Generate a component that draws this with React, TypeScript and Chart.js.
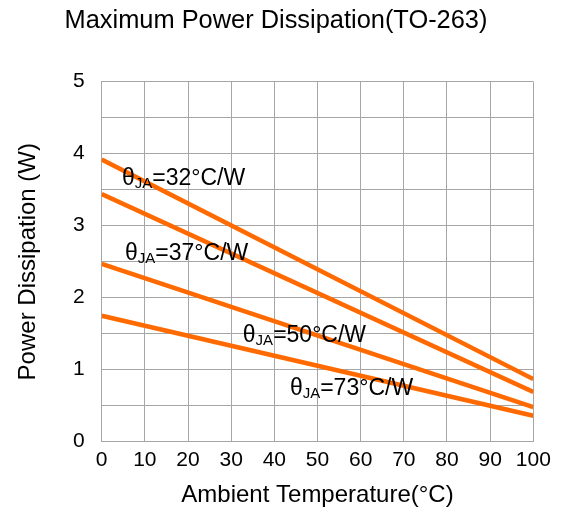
import React, { useEffect, useRef } from 'react';
import { Chart, registerables } from 'chart.js';

Chart.register(...registerables);

// ---- data ----
const temperatures = [0, 100];
const theta32 = [3.92, 0.87];
const theta37 = [3.44, 0.69];
const theta50 = [2.47, 0.48];
const theta73 = [1.75, 0.36];
const thetaValues = ['32', '37', '50', '73'];
const labelX = [4.7, 5.4, 32.7, 43.6];
const labelY = [3.57, 2.52, 1.385, 0.65];
const xTickValues = [0, 10, 20, 30, 40, 50, 60, 70, 80, 90, 100];
const yTickValues = [0, 1, 2, 3, 4, 5];

const chartTitle = 'Maximum Power Dissipation(TO-263)';
const xTitle = 'Ambient Temperature(°C)';
const yTitle = 'Power Dissipation (W)';

const FONT = '"Liberation Sans", Arial, sans-serif';
const ORANGE = '#FF6A00';
const GRID = '#A6A6A6';

const series = [theta32, theta37, theta50, theta73];

const textPlugin = {
  id: 'customText',
  afterDraw(chart: any) {
    const { ctx, chartArea, scales } = chart;
    ctx.save();
    ctx.fillStyle = '#000';
    // title
    ctx.font = `25.4px ${FONT}`;
    ctx.textAlign = 'center';
    ctx.textBaseline = 'alphabetic';
    ctx.fillText(chartTitle, 276, 28);
    // x title
    ctx.font = `24px ${FONT}`;
    ctx.fillText(xTitle, (chartArea.left + chartArea.right) / 2, 502);
    // y title
    ctx.save();
    ctx.translate(35, (chartArea.top + chartArea.bottom) / 2);
    ctx.rotate(-Math.PI / 2);
    ctx.fillText(yTitle, 0, 0);
    ctx.restore();
    // series labels
    ctx.textAlign = 'left';
    for (let i = 0; i < thetaValues.length; i++) {
      let px = scales.x.getPixelForValue(labelX[i]);
      const py = scales.y.getPixelForValue(labelY[i]);
      ctx.font = `23px ${FONT}`;
      ctx.fillText('θ', px, py);
      px += ctx.measureText('θ').width;
      ctx.font = `15px ${FONT}`;
      ctx.fillText('JA', px, py + 3);
      px += ctx.measureText('JA').width;
      ctx.font = `23px ${FONT}`;
      ctx.fillText(`=${thetaValues[i]}°C/W`, px, py);
    }
    ctx.restore();
  },
};

export default function App() {
  const ref = useRef<HTMLCanvasElement>(null);
  useEffect(() => {
    if (!ref.current) return;
    const chart = new Chart(ref.current, {
      type: 'line',
      data: {
        datasets: series.map((s, i) => ({
          label: thetaValues[i],
          data: temperatures.map((t, j) => ({ x: t, y: s[j] })),
          borderColor: ORANGE,
          borderWidth: 4.5,
          pointRadius: 0,
          fill: false,
          tension: 0,
        })),
      },
      options: {
        animation: false,
        responsive: false,
        devicePixelRatio: 1,
        layout: { padding: { top: 81.7, right: 35.7, bottom: 0, left: 0 } },
        plugins: {
          legend: { display: false },
          title: { display: false },
          tooltip: { enabled: false },
        },
        scales: {
          x: {
            type: 'linear',
            min: 0,
            max: 100,
            afterFit: (s: any) => { s.height = 67.3; },
            afterBuildTicks: (s: any) => { s.ticks = xTickValues.map((v) => ({ value: v })); },
            grid: { color: GRID, lineWidth: 1, drawTicks: false },
            border: { color: GRID, width: 1 },
            ticks: {
              color: '#000',
              font: { family: FONT, size: 21 },
              padding: 6,
              maxRotation: 0,
              autoSkip: false,
            },
          },
          y: {
            type: 'linear',
            min: 0,
            max: 5,
            afterFit: (s: any) => { s.width = 101.7; },
            afterBuildTicks: (s: any) => {
              const t: any[] = [];
              for (let i = 0; i < yTickValues.length; i++) {
                t.push({ value: yTickValues[i] });
                if (i < yTickValues.length - 1) t.push({ value: yTickValues[i] + 0.5 });
              }
              s.ticks = t;
            },
            grid: { color: GRID, lineWidth: 1, drawTicks: false },
            border: { color: GRID, width: 1 },
            ticks: {
              color: '#000',
              font: { family: FONT, size: 21 },
              padding: 17,
              autoSkip: false,
              callback: (v: any) => (Number.isInteger(v) ? String(v) : ''),
            },
          },
        },
      },
      plugins: [textPlugin],
    });
    return () => chart.destroy();
  }, []);
  return (
    <div style={{ position: 'fixed', left: 0, top: 0, width: 569, height: 509, background: '#fff' }}>
      <canvas ref={ref} width={569} height={509} style={{ width: 569, height: 509 }} />
    </div>
  );
}
